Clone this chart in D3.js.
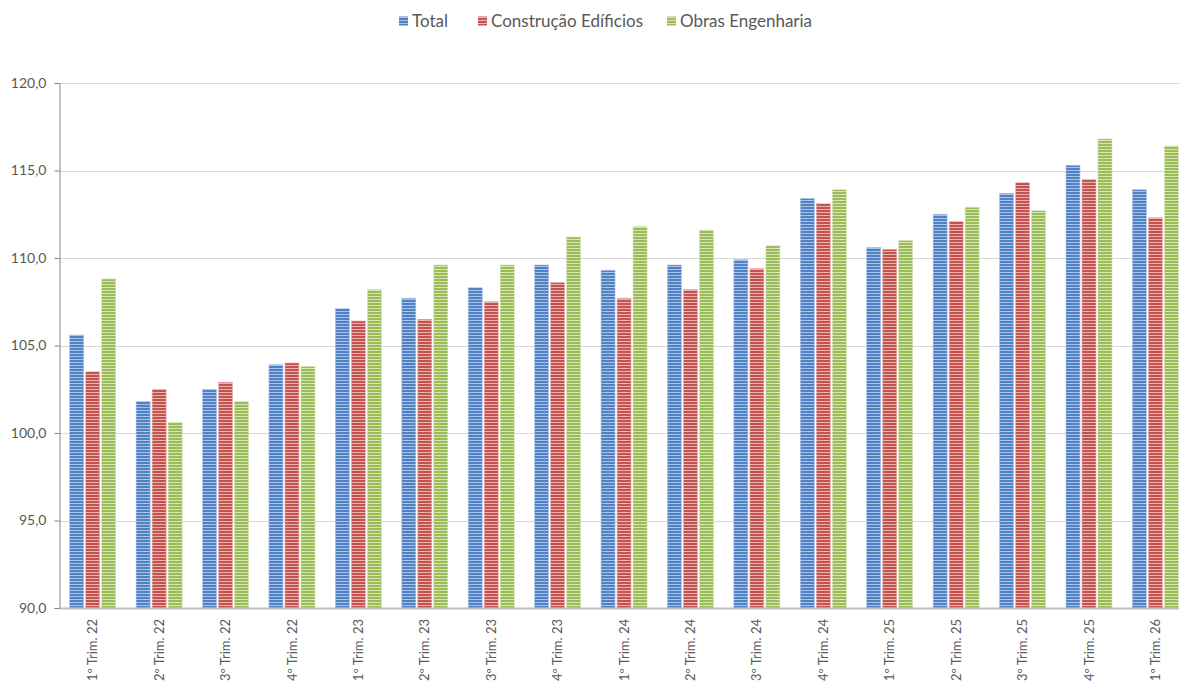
<!DOCTYPE html>
<html>
<head>
<meta charset="utf-8">
<script src="https://cdn.jsdelivr.net/npm/d3@7"></script>
<style>
  html, body { margin: 0; padding: 0; background: #fff; }
  svg { display: block; }
  text { font-family: Lato, "Open Sans", sans-serif; fill: #595959; }
</style>
</head>
<body>
<svg id="chart" width="1179" height="684"></svg>
<script>
const categories = ["1º Trim. 22","2º Trim. 22","3º Trim. 22","4º Trim. 22",
  "1º Trim. 23","2º Trim. 23","3º Trim. 23","4º Trim. 23",
  "1º Trim. 24","2º Trim. 24","3º Trim. 24","4º Trim. 24",
  "1º Trim. 25","2º Trim. 25","3º Trim. 25","4º Trim. 25","1º Trim. 26"];
const seriesNames = ["Total", "Construção Edíficios", "Obras Engenharia"];
const totalValues = [105.6,101.8,102.5,103.9,107.1,107.7,108.3,109.6,109.3,109.6,109.9,113.4,110.6,112.5,113.7,115.3,113.9];
const edificiosValues = [103.5,102.5,102.9,104.0,106.4,106.5,107.5,108.6,107.7,108.2,109.4,113.1,110.5,112.1,114.3,114.5,112.3];
const engenhariaValues = [108.8,100.6,101.8,103.8,108.2,109.6,109.6,111.2,111.8,111.6,110.7,113.9,111.0,112.9,112.7,116.8,116.4];
const yTicks = [90,95,100,105,110,115,120];

const seriesValues = [totalValues, edificiosValues, engenhariaValues];
const palette = [
  {base: "#4f81c4", light: "#a9c3e6"},
  {base: "#c4524f", light: "#eab3b1"},
  {base: "#9bbb59", light: "#d5e5b3"}
];

const svg = d3.select("#chart");
const mLeft = 59.5, mRight = 1188.6, mTop = 83, mBottom = 608;

const defs = svg.append("defs");
palette.forEach((p, i) => {
  const pat = defs.append("pattern")
    .attr("id", "pat" + i)
    .attr("patternUnits", "userSpaceOnUse")
    .attr("width", 4).attr("height", 3);
  pat.append("rect").attr("width", 4).attr("height", 3).attr("fill", p.base);
  pat.append("rect").attr("y", 2).attr("width", 4).attr("height", 1).attr("fill", p.light);
});

const y = d3.scaleLinear().domain([90, 120]).range([mBottom, mTop]);
const x0 = d3.scaleBand().domain(categories).range([mLeft, mRight])
  .paddingInner(0.277).paddingOuter(0.1385);
const x1 = d3.scaleBand().domain(seriesNames).range([0, x0.bandwidth()]);

// gridlines
svg.append("g").selectAll("line").data(yTicks.filter(t => t > 90)).join("line")
  .attr("x1", mLeft).attr("x2", 1179)
  .attr("y1", d => Math.round(y(d)) + 0.5).attr("y2", d => Math.round(y(d)) + 0.5)
  .attr("stroke", "#d9d9d9").attr("stroke-width", 1);

// bars
const groups = svg.append("g").selectAll("g").data(categories).join("g")
  .attr("transform", d => `translate(${x0(d)},0)`);
groups.selectAll("rect")
  .data((c, ci) => seriesNames.map((s, si) => ({s, si, v: seriesValues[si][ci]})))
  .join("rect")
  .attr("x", d => x1(d.s) + 1)
  .attr("width", x1.bandwidth() - 2)
  .attr("y", d => y(d.v))
  .attr("height", d => y(90) - y(d.v))
  .attr("fill", d => `url(#pat${d.si})`)
  .attr("stroke", d => palette[d.si].light)
  .attr("stroke-width", 0.6);

// y axis
const yAxis = d3.axisLeft(y).tickValues(yTicks).tickSize(5).tickPadding(8)
  .tickFormat(d => d3.format(".1f")(d).replace(".", ","));
const ga = svg.append("g").attr("transform", `translate(${mLeft},0)`).call(yAxis);
ga.select(".domain").attr("stroke", "#868686");
ga.selectAll(".tick line").attr("stroke", "#868686");
ga.selectAll(".tick text").style("font-size", "14px").attr("fill", "#595959");

// x axis
const xAxis = d3.axisBottom(x0).tickSize(0).tickPadding(0);
const gx = svg.append("g").attr("transform", `translate(0,${mBottom})`).call(xAxis);
gx.select(".domain").attr("stroke", "#bfbfbf").attr("stroke-width", 2)
  .attr("d", `M${mLeft},0.5H1179`);
gx.selectAll(".tick text")
  .style("font-size", "13px").attr("fill", "#595959")
  .attr("text-anchor", "end")
  .attr("dy", "0.35em")
  .attr("transform", "translate(0,11) rotate(-90)")
  .attr("x", 0).attr("y", 0);

// legend
const legendItems = [
  {name: seriesNames[0], sx: 399},
  {name: seriesNames[1], sx: 478},
  {name: seriesNames[2], sx: 667}
];
const lg = svg.append("g");
legendItems.forEach((it, i) => {
  lg.append("rect").attr("x", it.sx).attr("y", 16.5).attr("width", 9).attr("height", 9)
    .attr("fill", `url(#pat${i})`);
  lg.append("text").attr("x", it.sx + 13).attr("y", 21).attr("dy", "0.35em")
    .style("font-size", "17px").text(it.name);
});
</script>
</body>
</html>
